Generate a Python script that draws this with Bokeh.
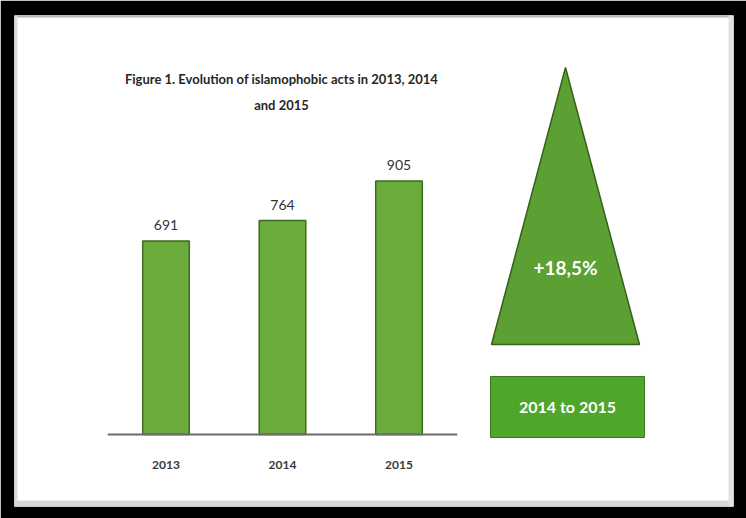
from bokeh.plotting import figure
from bokeh.models import Range1d, ColumnDataSource
from bokeh.core.properties import value
from bokeh.embed import file_html
from bokeh.resources import INLINE

# ---- data ----
years = [2013, 2014, 2015]
year_labels = ["2013", "2014", "2015"]
acts = [691, 764, 905]
growth_label = "+18,5%"
period_label = "2014 to 2015"
title_lines = ["Figure 1. Evolution of islamophobic acts in 2013, 2014", "and 2015"]

FONT = "Lato"

p = figure(width=746, height=518, output_backend="svg", toolbar_location=None,
           x_axis_type=None, y_axis_type=None,
           x_range=Range1d(2011.6996, 2017.8713), y_range=Range1d(-257.1, 1496.4),
           min_border_left=14, min_border_right=13, min_border_top=15, min_border_bottom=12)
p.border_fill_color = "black"
p.background_fill_color = "white"
p.outline_line_color = None
p.grid.visible = False

# pixel-like helper ranges for decorative elements
p.extra_x_ranges = {"px": Range1d(14, 733)}
p.extra_y_ranges = {"px": Range1d(506, 15)}

# soft gray inner edges of the slide
p.quad(left=[14], right=[733], top=[15], bottom=[17], fill_color="#b8b8b8", line_color=None,
       x_range_name="px", y_range_name="px")
p.quad(left=[14], right=[17], top=[15], bottom=[506], fill_color="#dcdcdc", line_color=None,
       x_range_name="px", y_range_name="px")
p.quad(left=[14], right=[733], top=[500], bottom=[506], fill_color="#d6d6d6", line_color=None,
       x_range_name="px", y_range_name="px")
p.quad(left=[728], right=[733], top=[15], bottom=[506], fill_color="#e2e2e2", line_color=None,
       x_range_name="px", y_range_name="px")

# ---- bars ----
src = ColumnDataSource(dict(x=years, top=acts, lab=[str(v) for v in acts], yl=year_labels))
p.vbar(x="x", top="top", width=0.40, bottom=0, source=src,
       fill_color="#6aab3c", line_color="#3d6b22", line_width=1.5)
# baseline (category axis line)
p.segment(x0=[min(years) - 0.5], x1=[max(years) + 0.5], y0=[0], y1=[0],
          line_color="#6b6b6b", line_width=2)

# value labels
p.text(x="x", y="top", text="lab", source=src, text_align="center", text_baseline="bottom",
       y_offset=-11, text_font=value(FONT), text_font_size="14px", text_color="#333333")
# category labels
p.text(x="x", y=464, text="yl", source=src, y_range_name="px",
       text_align="center", text_baseline="middle",
       text_font=value(FONT), text_font_size="12px", text_font_style="bold", text_color="#3a3a3a")

# ---- title ----
p.text(x=[281, 281], y=[78, 104], text=title_lines, x_range_name="px", y_range_name="px",
       text_align="center", text_baseline="middle", text_font=value(FONT),
       text_font_size="13px", text_font_style="bold", text_color="#262626")

# ---- triangle ----
p.patch(x=[565, 639, 491], y=[67, 344, 344], x_range_name="px", y_range_name="px",
        fill_color="#5c9f32", line_color="#35621a", line_width=1.5)
p.text(x=[565], y=[267], text=[growth_label], x_range_name="px", y_range_name="px",
       text_align="center", text_baseline="middle", text_font=value(FONT),
       text_font_size="19px", text_font_style="bold", text_color="white")

# ---- period box ----
p.quad(left=[490], right=[644], top=[376], bottom=[437], x_range_name="px", y_range_name="px",
       fill_color="#4ea62a", line_color="#3a7a1c", line_width=1)
p.text(x=[567], y=[406], text=[period_label], x_range_name="px", y_range_name="px",
       text_align="center", text_baseline="middle", text_font=value(FONT),
       text_font_size="16px", text_font_style="bold", text_color="white")

open("out.html", "w").write(file_html(p, INLINE))
